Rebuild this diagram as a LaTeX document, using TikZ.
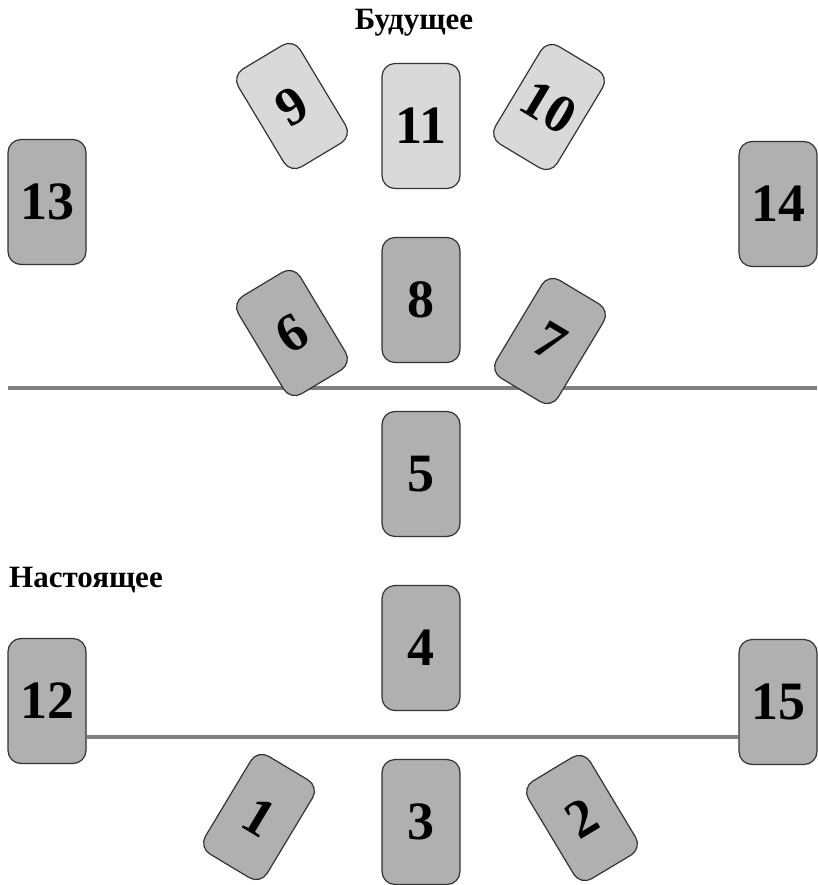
\documentclass[tikz,border=0pt]{standalone}
\usepackage{fontspec}
\setmainfont{Liberation Serif}
\usetikzlibrary{positioning}

\definecolor{cardgray}{gray}{0.69}
\definecolor{cardlight}{gray}{0.85}
\definecolor{linegray}{gray}{0.5}

\begin{document}
\begin{tikzpicture}[
        x = 1pt, y = -1pt,
        node distance = 174pt,
        on grid,
        card/.style = {draw = black!80, line width = 1.2pt, fill = cardgray,
                       rounded corners = 13pt, inner sep = 0pt,
                       minimum width = 78pt, minimum height = 125pt,
                       font = \fontsize{54}{54}\selectfont\bfseries},
        tilted/.style = {card, minimum width = 72pt, minimum height = 114pt},
        future/.style = {fill = cardlight},
        title/.style = {inner sep = 0pt, font = \fontsize{31}{31}\selectfont\bfseries},
        divider/.style = {draw = linegray, line width = 4.5pt}
    ]

      \useasboundingbox (0,0) rectangle (817,885);

      % time line behind cards 6 and 7
      \coordinate (timeL) at (8,388);
      \coordinate (timeR) at (817,388);
      \draw[divider] (timeL) -- (timeR);

      \node[title] (future) at (414,23) {Будущее};
      \node[title, anchor = west] (present) at (9,580) {Настоящее};

      % central column
      \node[card, future] (c11) at (421,126) {11};
      \node[card] (c8) [below = of c11] {8};
      \node[card] (c5) [below = of c8] {5};
      \node[card] (c4) [below = of c5] {4};
      \node[card] (c3) [below = of c4] {3};

      % tilted cards
      \node[tilted, future, rotate = 31] (c9) at (292,106) {9};
      \node[tilted, future, rotate = -31] (c10) at (549,107) {10};
      \node[tilted, rotate = 31] (c6) at (292,333) {6};
      \node[tilted, rotate = -31] (c7) at (550,341) {7};
      \node[tilted, rotate = -31] (c1) at (259,817) {1};
      \node[tilted, rotate = 31] (c2) at (582,818) {2};

      % side cards
      \node[card] (c13) at (47,202) {13};
      \node[card] (c14) at (778,204) {14};
      \node[card] (c12) at (47,701) {12};
      \node[card] (c15) at (778,702) {15};

      \draw[divider] ([yshift = -36pt]c12.east) -- ([yshift = -35pt]c15.west);

    \end{tikzpicture}
\end{document}
